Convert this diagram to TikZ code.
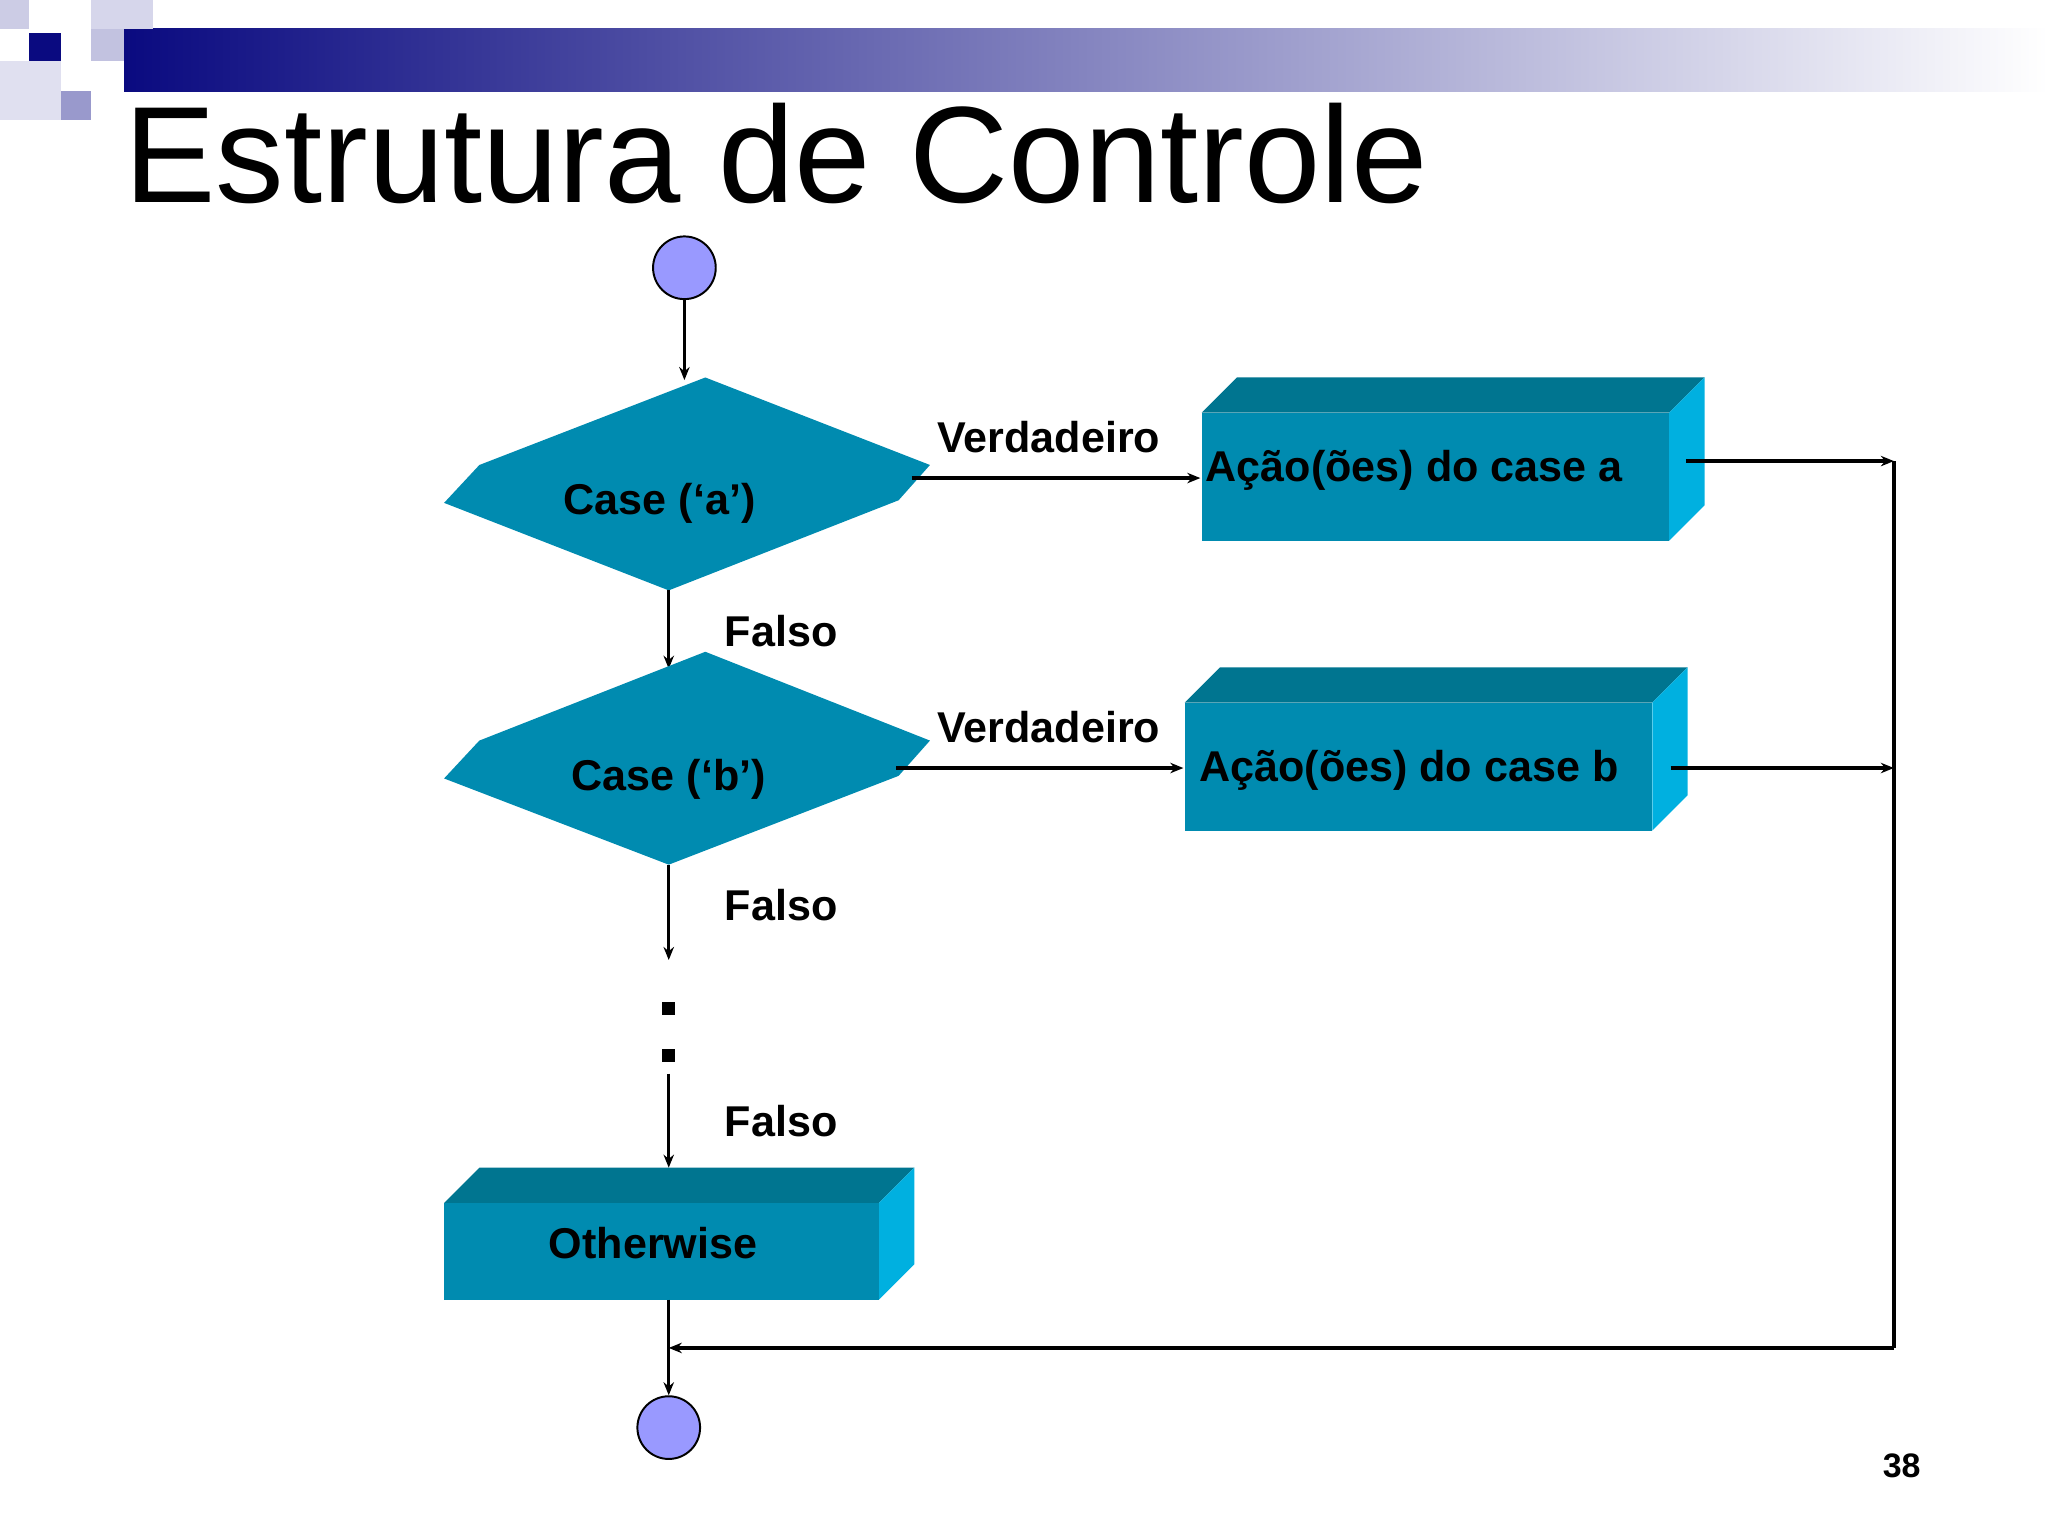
\documentclass[tikz,border=0pt]{standalone}
\usepackage{fontspec}
\setmainfont{Liberation Sans}
\usetikzlibrary{arrows.meta}
\definecolor{navy}{HTML}{0A0A80}
\definecolor{lav}{HTML}{9999CC}
\definecolor{teal}{HTML}{008BB0}
\definecolor{tealdark}{HTML}{007590}
\definecolor{teallight}{HTML}{00B0E0}
\definecolor{circ}{HTML}{9999FF}
\tikzset{x=1pt,y=-1pt,
 conn/.style={line width=2.6pt,-{Stealth[length=10pt,width=8pt]}},
 lbl/.style={font=\fontsize{33}{36}\selectfont\bfseries},
 boxfront/.style={fill=teal},
 boxtop/.style={fill=tealdark},
 boxside/.style={fill=teallight}}
\begin{document}
\begin{tikzpicture}
\useasboundingbox (0,0) rectangle (1568,1176);
% header decoration
\shade[left color=navy,right color=white] (95,22) rectangle (1568,70);
\fill[lav!50] (0,0) rectangle (22,22);
\fill[lav!40] (70,0) rectangle (117,22);
\fill[navy] (22,25) rectangle (47,47);
\fill[lav!60] (70,22) rectangle (95,47);
\fill[lav!30] (0,47) rectangle (47,92);
\fill[lav] (47,70) rectangle (70,92);
\node[anchor=base west,inner sep=0,font=\fontsize{105}{110}\selectfont] (title) at (95,155) {Estrutura de Controle};
% start
\node[circle,draw,line width=1.5pt,fill=circ,minimum size=48pt,inner sep=0] (start) at (524,205) {};
\coordinate (d1top) at (524,291);
\draw[conn] (start) -- (d1top);
% diamond 1
\fill[teal] (340,385)--(367,356)--(540,289)--(712,356)--(688,383)--(512,452)--cycle;
\node[lbl] (c1) at (505,385) {Case (‘a’)};
\coordinate (d1b) at (512,452); \coordinate (d2t) at (512,512);
\draw[conn] (d1b) -- (d2t);
\node[lbl] (f1) at (598,483) {Falso};
% diamond 2
\fill[teal] (340,596)--(367,567)--(540,499)--(712,567)--(688,594)--(512,662)--cycle;
\node[lbl] (c2) at (512,597) {Case (‘b’)};
\coordinate (d2b) at (512,662); \coordinate (dots1) at (512,735);
\draw[conn] (d2b) -- (dots1);
\node[lbl] (f2) at (598,693) {Falso};
\fill (507,767) rectangle (517,777);
\fill (507,803) rectangle (517,813);
\coordinate (dots2) at (512,822); \coordinate (ot) at (512,894);
\draw[conn] (dots2) -- (ot);
\node[lbl] (f3) at (598,858) {Falso};
% Otherwise
\fill[boxfront] (340,921) rectangle (673,995);
\fill[boxtop] (340,921)--(367,894)--(700,894)--(673,921)--cycle;
\fill[boxside] (673,921)--(700,894)--(700,968)--(673,995)--cycle;
\node[lbl] (oth) at (500,952) {Otherwise};
\coordinate (ob) at (512,995);
\node[circle,draw,line width=1.5pt,fill=circ,minimum size=48pt,inner sep=0] (end) at (512,1093) {};
\draw[conn] (ob) -- (end);
% box a
\fill[boxfront] (920,316) rectangle (1278,414);
\fill[boxtop] (920,316)--(947,289)--(1305,289)--(1278,316)--cycle;
\fill[boxside] (1278,316)--(1305,289)--(1305,387)--(1278,414)--cycle;
\node[lbl,anchor=west,inner sep=0] (a) at (923,360) {Ação(ões) do case a};
% box b
\fill[boxfront] (907,538) rectangle (1265,636);
\fill[boxtop] (907,538)--(934,511)--(1292,511)--(1265,538)--cycle;
\fill[boxside] (1265,538)--(1292,511)--(1292,609)--(1265,636)--cycle;
\node[lbl,anchor=west,inner sep=0] (b) at (918,590) {Ação(ões) do case b};
% true arrows
\coordinate (d1r) at (698,366); \coordinate (bal) at (919,366);
\draw[conn] (d1r) -- (bal);
\node[lbl] (v1) at (803,335) {Verdadeiro};
\coordinate (d2r) at (686,588); \coordinate (bbl) at (906,588);
\draw[conn] (d2r) -- (bbl);
\node[lbl] (v2) at (803,557) {Verdadeiro};
% right join
\coordinate (ar) at (1291,353); \coordinate (j1) at (1450,353);
\coordinate (br) at (1279,588); \coordinate (j2) at (1450,588);
\coordinate (j3) at (1450,1032); \coordinate (jm) at (512,1032);
\draw[conn] (ar) -- (j1);
\draw[conn] (br) -- (j2);
\draw[line width=2.6pt] (j1) -- (j3);
\draw[conn] (j3) -- (jm);
\node[font=\fontsize{26}{28}\selectfont\bfseries] (pg) at (1456,1122) {38};
\end{tikzpicture}
\end{document}
